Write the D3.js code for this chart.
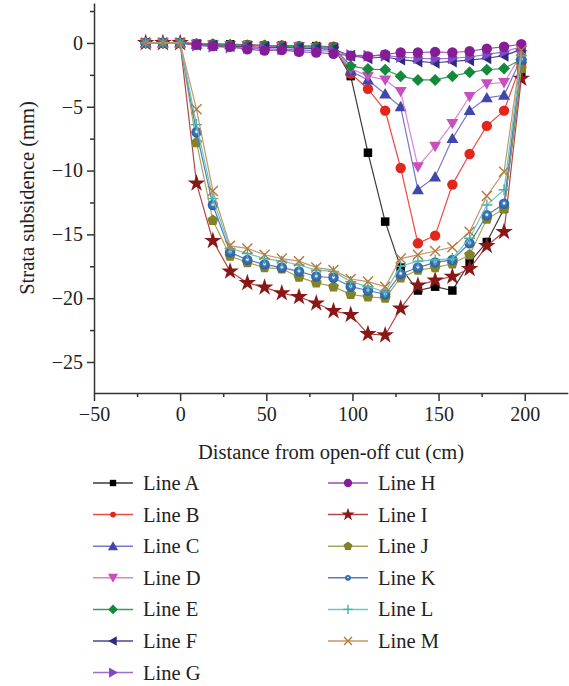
<!DOCTYPE html>
<html>
<head>
  <meta charset="UTF-8">
  <style>
    body { margin: 0; background: #fff; }
    text { font-family: "Liberation Serif", "Times New Roman", serif; fill: #222; }
  </style>
</head>
<body>
<div id="chart_div"></div>

<script src="https://d3js.org/d3.v7.min.js"></script>
<script>

let width = 569, height = 686;

// distance from open-off cut (cm)
const xValues = [-20, -10, 0, 9.5, 19, 29, 39, 49, 59, 69, 79, 89, 99, 109, 119, 128, 138, 148, 158, 168, 178, 188, 198];

// strata subsidence (mm)
const lineA = [0, 0, 0, -0.05, -0.1, -0.1, -0.15, -0.2, -0.2, -0.25, -0.25, -0.3, -2.6, -8.6, -14.0, -17.6, -19.4, -19.1, -19.4, -17.2, -15.6, -13.0, -2.3];
const lineB = [0, 0, 0, -0.05, -0.1, -0.15, -0.15, -0.2, -0.2, -0.25, -0.3, -0.3, -2.4, -3.6, -5.3, -9.8, -15.7, -15.1, -11.1, -8.7, -6.5, -5.3, -1.6];
const lineC = [0, 0, 0, -0.1, -0.1, -0.15, -0.2, -0.2, -0.25, -0.3, -0.3, -0.35, -2.2, -2.9, -4.0, -5.0, -11.5, -10.5, -7.5, -5.3, -4.3, -4.1, -1.2];
const lineD = [0, 0, 0, -0.1, -0.15, -0.2, -0.2, -0.25, -0.3, -0.3, -0.35, -0.4, -2.0, -2.6, -2.9, -3.8, -9.7, -8.1, -6.3, -4.2, -3.2, -3.1, -0.9];
const lineE = [0, 0, 0, -0.1, -0.1, -0.15, -0.2, -0.2, -0.25, -0.3, -0.3, -0.35, -1.8, -2.05, -2.1, -2.6, -2.9, -2.9, -2.6, -2.3, -2.1, -2.0, -1.3];
const lineF = [0, 0, 0, -0.15, -0.2, -0.25, -0.3, -0.35, -0.35, -0.4, -0.45, -0.5, -1.0, -1.2, -1.1, -1.3, -1.45, -1.55, -1.45, -1.35, -1.2, -1.0, -0.5];
const lineG = [0, 0, 0, -0.2, -0.3, -0.35, -0.4, -0.45, -0.5, -0.55, -0.6, -0.65, -0.95, -1.0, -1.0, -1.1, -1.2, -1.25, -1.2, -1.1, -0.9, -0.7, -0.3];
const lineH = [0, 0, 0, -0.15, -0.25, -0.3, -0.5, -0.6, -0.55, -0.7, -0.75, -0.85, -1.0, -1.05, -0.9, -0.75, -0.75, -0.7, -0.75, -0.65, -0.45, -0.3, -0.1];
const lineI = [0, 0, 0, -11.0, -15.5, -17.9, -18.8, -19.15, -19.6, -19.9, -20.4, -21.0, -21.3, -22.8, -22.9, -20.8, -19.0, -18.6, -18.3, -17.7, -15.9, -14.8, -2.8];
const lineJ = [0, 0, 0, -7.8, -13.9, -16.7, -17.2, -17.6, -17.7, -18.35, -18.8, -19.1, -19.7, -19.9, -20.0, -18.4, -17.8, -17.6, -17.3, -16.6, -13.8, -13.0, -2.0];
const lineK = [0, 0, 0, -7.0, -12.7, -16.4, -17.0, -17.35, -17.6, -17.9, -18.3, -18.4, -19.1, -19.4, -19.7, -18.1, -17.6, -17.2, -17.0, -15.7, -13.5, -12.6, -1.3];
const lineL = [0, 0, 0, -6.4, -12.2, -16.1, -16.5, -16.9, -17.1, -17.4, -17.8, -17.9, -18.7, -19.1, -19.5, -17.5, -17.1, -17.0, -16.9, -15.3, -12.7, -11.5, -1.0];
const lineM = [0, 0, 0, -5.2, -11.6, -15.9, -16.1, -16.6, -16.9, -17.1, -17.6, -17.8, -18.5, -18.7, -19.1, -16.9, -16.6, -16.3, -16.0, -14.8, -12.0, -10.1, -0.6];

const seriesNames = ["Line A", "Line B", "Line C", "Line D", "Line E", "Line F", "Line G",
                     "Line H", "Line I", "Line J", "Line K", "Line L", "Line M"];
const seriesValues = [lineA, lineB, lineC, lineD, lineE, lineF, lineG, lineH, lineI, lineJ, lineK, lineL, lineM];
const markerColors = ["#000000", "#e3261c", "#4146aa", "#c84fbf", "#138a3a", "#2d2b7e", "#7f49c2",
                      "#871c98", "#8a1717", "#828228", "#2f66a6", "#42b0b0", "#b47a3c"];
const lineColors = ["#3a3a3a", "#ef4a3f", "#7478c8", "#dd80d6", "#3a9e55", "#4a4893", "#9a6ed2",
                    "#a04cb0", "#b04848", "#a6a65a", "#4f7fbf", "#6cc6c6", "#c4976a"];
const markerTypes = ["square", "circle", "up", "down", "diamond", "left", "right",
                     "circle", "star", "pentagon", "sphere", "plus", "cross"];
const legendScale = [0.75, 0.55, 0.85, 0.85, 0.8, 0.8, 0.85, 0.8, 0.75, 0.8, 0.55, 0.85, 0.8];

const xTicks = [-50, 0, 50, 100, 150, 200];
const xMinorTicks = [-25, 25, 75, 125, 175];
const yTicks = [0, -5, -10, -15, -20, -25];
const yMinorTicks = [2.5, -2.5, -7.5, -12.5, -17.5, -22.5];

let svg = d3.select("#chart_div")
    .append("svg")
    .attr("width", width)
    .attr("height", height);

let defs = svg.append("defs");
let grad = defs.append("radialGradient")
    .attr("id", "sphere")
    .attr("cx", "50%").attr("cy", "45%").attr("r", "55%");
grad.append("stop").attr("offset", "0%").attr("stop-color", "#ffffff");
grad.append("stop").attr("offset", "18%").attr("stop-color", "#c8dcf2");
grad.append("stop").attr("offset", "35%").attr("stop-color", "#3f78ba");
grad.append("stop").attr("offset", "100%").attr("stop-color", "#2a5d9c");

let x = d3.scaleLinear().domain([-50, 225]).range([94, 567.8]);
let y = d3.scaleLinear().domain([-27.43, 3.13]).range([393, 3]);

// axes
let xAxis = svg.append("g").attr("transform", "translate(0,393)");
xAxis.call(d3.axisBottom(x).tickValues(xTicks).tickSize(8).tickSizeOuter(0).tickPadding(6));
xAxis.append("g").call(d3.axisBottom(x).tickValues(xMinorTicks).tickSize(4).tickFormat(""))
    .select(".domain").remove();

let yAxis = svg.append("g").attr("transform", "translate(94,0)");
yAxis.call(d3.axisLeft(y).tickValues(yTicks).tickSize(7).tickSizeOuter(0).tickPadding(4));
yAxis.append("g").call(d3.axisLeft(y).tickValues(yMinorTicks).tickSize(4).tickFormat(""))
    .select(".domain").remove();

svg.selectAll(".domain, .tick line")
    .attr("stroke", "#333")
    .attr("stroke-width", 1.5);
svg.selectAll(".tick text")
    .style("font-family", "'Liberation Serif', serif")
    .style("font-size", "20px")
    .attr("fill", "#222");

svg.append("text")
    .attr("x", 331)
    .attr("y", 459)
    .attr("text-anchor", "middle")
    .style("font-size", "20.5px")
    .text("Distance from open-off cut (cm)");

svg.append("text")
    .attr("transform", "translate(34,198) rotate(-90)")
    .attr("text-anchor", "middle")
    .style("font-size", "20.5px")
    .text("Strata subsidence (mm)");

// marker drawing
function drawMarker(g, type, color, k) {
  let tri = d3.symbol().type(d3.symbolTriangle).size(62 * k * k)();
  if (type == "square") {
    g.append("path").attr("d", d3.symbol().type(d3.symbolSquare).size(72 * k * k)()).attr("fill", color);
  } else if (type == "circle") {
    g.append("circle").attr("r", 5.2 * k).attr("fill", color);
  } else if (type == "sphere") {
    g.append("circle").attr("r", 5.2 * k).attr("fill", "url(#sphere)");
  } else if (type == "up") {
    g.append("path").attr("d", tri).attr("transform", "translate(0,1)").attr("fill", color);
  } else if (type == "down") {
    g.append("path").attr("d", tri).attr("transform", "rotate(180) translate(0,1)").attr("fill", color);
  } else if (type == "left") {
    g.append("path").attr("d", tri).attr("transform", "rotate(-90) translate(0,1)").attr("fill", color);
  } else if (type == "right") {
    g.append("path").attr("d", tri).attr("transform", "rotate(90) translate(0,1)").attr("fill", color);
  } else if (type == "diamond") {
    let r = 6 * k;
    g.append("path").attr("d", `M0,${-r}L${r},0L0,${r}L${-r},0Z`).attr("fill", color);
  } else if (type == "star") {
    g.append("path").attr("d", d3.symbol().type(d3.symbolStar).size(95 * k * k)()).attr("fill", color);
  } else if (type == "pentagon") {
    let r = 5.8 * k;
    let pts = d3.range(5).map(i => {
      let a = -Math.PI / 2 + i * 2 * Math.PI / 5;
      return [r * Math.cos(a), r * Math.sin(a)];
    });
    g.append("path").attr("d", d3.line()(pts) + "Z").attr("fill", color);
  } else if (type == "plus") {
    let r = 5.5 * k;
    g.append("path").attr("d", `M${-r},0L${r},0M0,${-r}L0,${r}`)
      .attr("stroke", color).attr("stroke-width", 1.4).attr("fill", "none");
  } else if (type == "cross") {
    let r = 5 * k;
    g.append("path").attr("d", `M${-r},${-r}L${r},${r}M${-r},${r}L${r},${-r}`)
      .attr("stroke", color).attr("stroke-width", 1.4).attr("fill", "none");
  }
}

let line = d3.line()
    .x(d => x(d[0]))
    .y(d => y(d[1]));

let plot = svg.append("g").attr("id", "series");

seriesValues.forEach((vals, i) => {
  let pts = xValues.map((xv, j) => [xv, vals[j]]);
  let g = plot.append("g");
  g.append("path")
    .datum(pts)
    .attr("d", line)
    .attr("fill", "none")
    .attr("stroke", lineColors[i])
    .attr("stroke-width", 1.2);
  g.selectAll("g.mk")
    .data(pts)
    .enter()
    .append("g")
    .attr("class", "mk")
    .attr("transform", d => "translate(" + x(d[0]) + "," + y(d[1]) + ")")
    .each(function () {
      drawMarker(d3.select(this), markerTypes[i], markerColors[i], 1);
    });
});

// legend
let legend = svg.append("g").attr("id", "legend");
seriesNames.forEach((name, i) => {
  let col = i < 7 ? 0 : 1;
  let row = i < 7 ? i : i - 7;
  let lx = col == 0 ? 93 : 328;
  let ly = 483 + row * 31.6;
  let item = legend.append("g").attr("transform", "translate(" + lx + "," + ly + ")");
  item.append("line")
    .attr("x1", 0).attr("x2", 40)
    .attr("stroke", lineColors[i])
    .attr("stroke-width", 1.5);
  let mk = item.append("g").attr("transform", "translate(20,0)");
  drawMarker(mk, markerTypes[i], markerColors[i], legendScale[i]);
  item.append("text")
    .attr("x", 50)
    .attr("y", 7)
    .style("font-size", "20.5px")
    .text(name);
});

</script>

</body>
</html>
